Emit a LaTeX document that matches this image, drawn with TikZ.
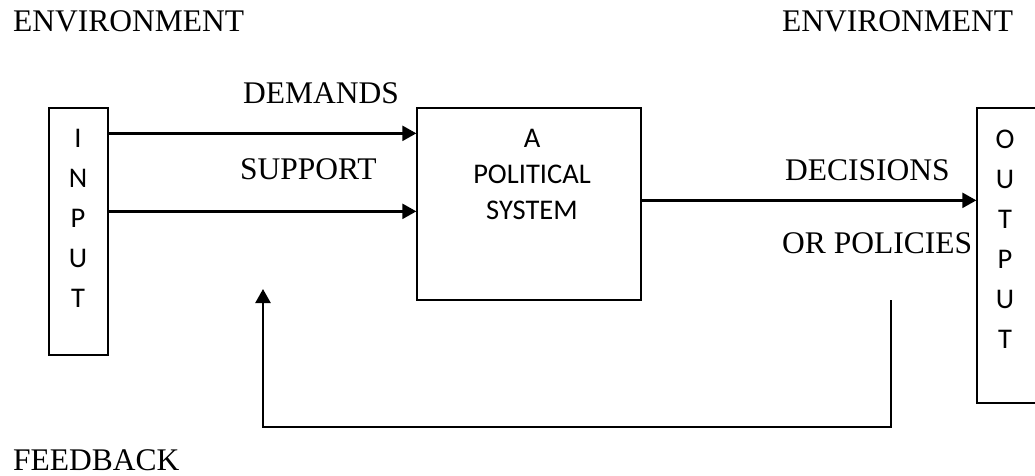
\documentclass[tikz,border=0pt]{standalone}
\usepackage{fontspec}
\setmainfont{Liberation Serif}
\newfontfamily\calibri{Carlito}
\usetikzlibrary{arrows.meta,calc}
\begin{document}
\begin{tikzpicture}[>={Triangle[length=14pt,width=15pt]},x=1pt,y=-1pt,
		lbl/.style={anchor=base west,inner sep=0pt,font=\fontsize{31.5}{38}\selectfont},
		blk/.style={draw,line width=1.3pt,inner sep=0pt},
		ltr/.style={align=center,inner sep=0pt,font=\calibri\fontsize{28.5}{40}\selectfont},
		flow/.style={->,line width=2.4pt}]
	\useasboundingbox (0,0) rectangle (1035,476);
	% boxes
	\node[blk,minimum width=59pt,minimum height=247pt] (inbox) at (78.5,231.5) {};
	\node[blk,minimum width=224pt,minimum height=192pt] (sys) at (529,204) {};
	\node[blk,minimum width=68pt,minimum height=295pt] (outbox) at (1011,255.5) {};
	\node[ltr] (inltr) at (78,218) {I\\N\\P\\U\\T};
	\node[ltr,font=\calibri\fontsize{28.5}{36}\selectfont] (systxt) at (532,174) {A\\POLITICAL\\SYSTEM};
	\node[ltr] (outltr) at (1005,239) {O\\U\\T\\P\\U\\T};
	% labels
	\node[lbl] (envl) at (13,32) {ENVIRONMENT};
	\node[lbl] (envr) at (782,32) {ENVIRONMENT};
	\node[lbl] (dem) at (243,103) {DEMANDS};
	\node[lbl] (sup) at (240,179) {SUPPORT};
	\node[lbl] (dec) at (785,180) {DECISIONS};
	\node[lbl] (pol) at (782,253) {OR POLICIES};
	\node[lbl] (fb) at (13,470) {FEEDBACK};
	% flows
	\draw[flow] ($(inbox.north east)+(0,26)$) -- ($(sys.north west)+(0,26)$);
	\draw[flow] ($(inbox.north east)+(0,104)$) -- ($(sys.north west)+(0,104)$);
	\draw[flow] ($(sys.north east)+(0,93)$) -- ($(outbox.north west)+(0,93)$);
	\coordinate (fbtop) at (891,300);
	\coordinate (fbtip) at (263,289);
	\draw[flow] (fbtop) -- ++(0,127) -| (fbtip);
\end{tikzpicture}
\end{document}
